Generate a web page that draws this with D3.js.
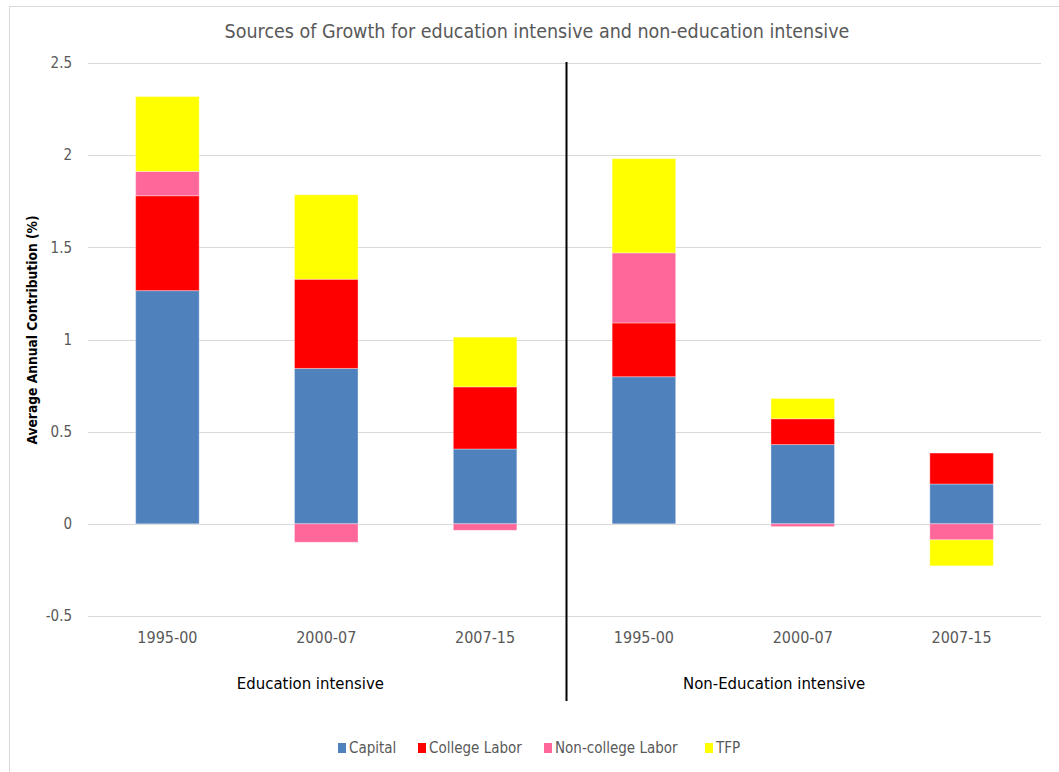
<!DOCTYPE html>
<html>
<head>
<meta charset="utf-8">
<script src="https://cdn.jsdelivr.net/npm/d3@7"></script>
<style>
  html, body { margin: 0; padding: 0; background: #fff; }
  svg { display: block; }
  text { font-family: "Liberation Sans Narrow", "DejaVu Sans Condensed", "Liberation Sans", sans-serif; }
</style>
</head>
<body>
<svg id="chart" width="1059" height="772"></svg>
<script>
// Period labels for each bar (two industry groups of three periods)
const periods = ["1995-00", "2000-07", "2007-15", "1995-00", "2000-07", "2007-15"];
const groups = ["Education intensive", "Non-Education intensive"];

// Contributions to growth, percentage points per year
const capital    = [1.265, 0.843, 0.406, 0.798, 0.430, 0.216];
const college    = [0.515, 0.484, 0.337, 0.292, 0.140, 0.168];
const nonCollege = [0.132, -0.100, -0.035, 0.380, -0.015, -0.087];
const tfp        = [0.406, 0.458, 0.270, 0.511, 0.110, -0.141];

const seriesNames = ["Capital", "College Labor", "Non-college Labor", "TFP"];
const seriesColors = ["#4F81BD", "#FF0000", "#FF6699", "#FFFF00"];
const yTicks = [-0.5, 0, 0.5, 1, 1.5, 2, 2.5];

const rows = periods.map((p, i) => ({
  idx: i,
  "Capital": capital[i],
  "College Labor": college[i],
  "Non-college Labor": nonCollege[i],
  "TFP": tfp[i]
}));

const svg = d3.select("#chart");
const W = 1059, H = 772;
const plot = { left: 88, right: 1041, top: 63, bottom: 616 };

// Outer chart frame
svg.append("rect")
  .attr("x", 9.5).attr("y", 6.5)
  .attr("width", W + 10).attr("height", H + 10)
  .attr("fill", "#fff").attr("stroke", "#d9d9d9").attr("stroke-width", 1);

const x = d3.scaleBand().domain(rows.map(d => d.idx)).range([plot.left, plot.right]).padding(0);
const y = d3.scaleLinear().domain([-0.5, 2.5]).range([plot.bottom, plot.top]);

// Gridlines
svg.append("g").selectAll("line").data(yTicks).join("line")
  .attr("x1", plot.left).attr("x2", plot.right)
  .attr("y1", d => Math.round(y(d)) + 0.5).attr("y2", d => Math.round(y(d)) + 0.5)
  .attr("stroke", "#d9d9d9").attr("stroke-width", 1);

// Y tick labels
svg.append("g").selectAll("text").data(yTicks).join("text")
  .attr("x", 72).attr("y", d => y(d)).attr("dy", "0.35em")
  .attr("text-anchor", "end")
  .attr("font-size", 15).attr("fill", "#595959")
  .text(d => String(d));

// Stacked bars (positive and negative parts stacked separately)
const stack = d3.stack().keys(seriesNames).offset(d3.stackOffsetDiverging);
const layers = stack(rows);
const barW = x.bandwidth() * 0.4;
svg.append("g").selectAll("g").data(layers).join("g")
  .attr("fill", (d, i) => seriesColors[i])
  .selectAll("rect").data(d => d).join("rect")
  .attr("x", d => x(d.data.idx) + (x.bandwidth() - barW) / 2)
  .attr("width", barW)
  .attr("y", d => y(Math.max(d[0], d[1])))
  .attr("height", d => Math.abs(y(d[0]) - y(d[1])))
  .attr("stroke", "rgba(255,255,255,0.35)").attr("stroke-width", 1);

// Period labels
svg.append("g").selectAll("text").data(rows).join("text")
  .attr("x", d => x(d.idx) + x.bandwidth() / 2).attr("y", 643)
  .attr("text-anchor", "middle")
  .attr("font-size", 16).attr("fill", "#595959")
  .text(d => periods[d.idx]);

// Group labels
const groupX = [x(0) + x.bandwidth() * 1.4, x(3) + x.bandwidth() * 1.32];
svg.append("g").selectAll("text").data(groups).join("text")
  .attr("x", (d, i) => groupX[i]).attr("y", 689)
  .attr("text-anchor", "middle")
  .attr("font-size", 16.6).attr("fill", "#000")
  .text(d => d);

// Divider between the two groups
svg.append("line")
  .attr("x1", x(3) + 2).attr("x2", x(3) + 2)
  .attr("y1", plot.top - 1).attr("y2", 701)
  .attr("stroke", "#000").attr("stroke-width", 2);

// Title
svg.append("text")
  .attr("x", 537).attr("y", 38)
  .attr("text-anchor", "middle")
  .attr("font-size", 19.5).attr("fill", "#595959")
  .text("Sources of Growth for education intensive and non-education intensive");

// Y axis title
svg.append("text")
  .attr("transform", "translate(37,330) rotate(-90)")
  .attr("text-anchor", "middle")
  .attr("font-size", 13.7).attr("font-weight", "bold").attr("fill", "#000")
  .text("Average Annual Contribution (%)");

// Legend
const legendX = [338, 418, 544, 705];
const lg = svg.append("g").selectAll("g").data(seriesNames).join("g")
  .attr("transform", (d, i) => `translate(${legendX[i]},748)`);
lg.append("rect").attr("x", 0).attr("y", -5).attr("width", 8).attr("height", 10)
  .attr("fill", (d, i) => seriesColors[i]);
lg.append("text").attr("x", 11).attr("y", 0).attr("dy", "0.35em")
  .attr("font-size", 15).attr("fill", "#595959")
  .text(d => d);
</script>
</body>
</html>
